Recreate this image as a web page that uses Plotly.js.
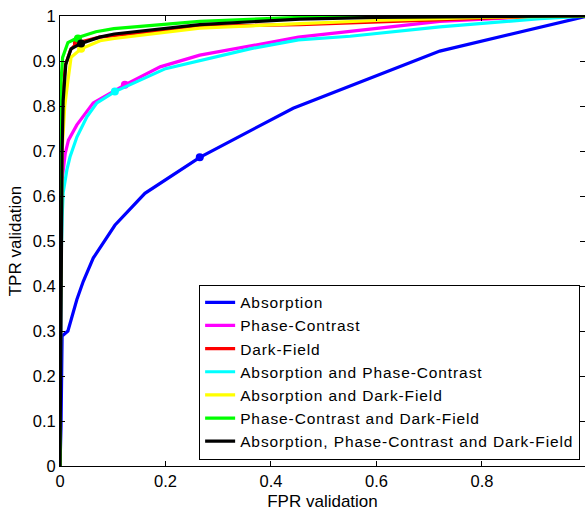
<!DOCTYPE html>
<html>
<head>
<meta charset="utf-8">
<script src="https://cdn.plot.ly/plotly-3.0.1.min.js"></script>
<style>
html,body{margin:0;padding:0;background:#fff;}
#chart{width:585px;height:512px;}
text.legendtext{letter-spacing:0.9px;}
</style>
</head>
<body>
<div id="chart"></div>
<script>
// Absorption
const absX = [0, 0.002, 0.004, 0.015, 0.032, 0.044, 0.063, 0.104, 0.161, 0.265, 0.442, 0.72, 1];
const absY = [0, 0.09, 0.289, 0.30, 0.37, 0.41, 0.462, 0.535, 0.606, 0.686, 0.795, 0.922, 1];
// Phase-Contrast
const pcX = [0, 0.002, 0.004, 0.01, 0.016, 0.032, 0.063, 0.123, 0.19, 0.265, 0.452, 0.55, 0.72, 0.85, 0.95, 1];
const pcY = [0, 0.55, 0.636, 0.695, 0.724, 0.758, 0.807, 0.847, 0.887, 0.913, 0.953, 0.966, 0.988, 0.996, 0.999, 1];
// Dark-Field
const dfX = [0, 0.001, 0.004, 0.01, 0.02, 0.032, 0.075, 0.265, 0.455, 0.53, 0.72, 0.85, 1];
const dfY = [0, 0.6, 0.8, 0.89, 0.925, 0.94, 0.953, 0.977, 0.981, 0.984, 0.993, 0.997, 1];
// Absorption and Phase-Contrast
const apcX = [0, 0.002, 0.004, 0.006, 0.013, 0.019, 0.032, 0.051, 0.07, 0.104, 0.2, 0.36, 0.452, 0.55, 0.72, 0.91, 1];
const apcY = [0, 0.45, 0.553, 0.607, 0.658, 0.687, 0.731, 0.776, 0.807, 0.832, 0.883, 0.927, 0.947, 0.955, 0.976, 0.994, 1];
// Absorption and Dark-Field
const adfX = [0, 0.001, 0.004, 0.009, 0.015, 0.021, 0.04, 0.076, 0.103, 0.265, 0.455, 0.6, 0.8, 1];
const adfY = [0, 0.35, 0.7, 0.8, 0.856, 0.908, 0.927, 0.945, 0.95, 0.973, 0.983, 0.99, 0.997, 1];
// Phase-Contrast and Dark-Field
const pcdfX = [0, 0.0005, 0.001, 0.002, 0.005, 0.015, 0.034, 0.068, 0.102, 0.265, 0.455, 0.6, 1];
const pcdfY = [0, 0.6, 0.74, 0.856, 0.908, 0.941, 0.952, 0.965, 0.972, 0.988, 0.997, 0.999, 1];
// Absorption, Phase-Contrast and Dark-Field
const allX = [0, 0.002, 0.004, 0.006, 0.011, 0.021, 0.04, 0.075, 0.103, 0.265, 0.455, 0.6, 1];
const allY = [0, 0.5, 0.7, 0.812, 0.893, 0.927, 0.939, 0.953, 0.96, 0.981, 0.993, 0.997, 1];

// operating points (marked dots)
const opX = [0.265, 0.123, 0.032, 0.104, 0.04, 0.034, 0.04];
const opY = [0.686, 0.847, 0.94, 0.832, 0.927, 0.95, 0.939];

const names = ["Absorption", "Phase-Contrast", "Dark-Field", "Absorption and Phase-Contrast",
  "Absorption and Dark-Field", "Phase-Contrast and Dark-Field", "Absorption, Phase-Contrast and Dark-Field"];
const xs = [absX, pcX, dfX, apcX, adfX, pcdfX, allX];
const ys = [absY, pcY, dfY, apcY, adfY, pcdfY, allY];
const colors = ["#0000ff", "#ff00ff", "#ff0000", "#00ffff", "#ffff00", "#00ff00", "#000000"];

const traces = [];
for (let i = 0; i < names.length; i++) {
  traces.push({x: xs[i], y: ys[i], type: "scatter", mode: "lines", name: names[i],
    line: {color: colors[i], width: 3.2}, hoverinfo: "skip"});
  traces.push({x: [opX[i]], y: [opY[i]], type: "scatter", mode: "markers", showlegend: false,
    marker: {color: colors[i], size: 8, symbol: "circle"}, hoverinfo: "skip"});
}

const fam = "Liberation Sans, Arial, sans-serif";
const tickFont = {family: fam, size: 16.5, color: "#000"};
const titleFont = {family: fam, size: 17, color: "#000"};
const legendFont = {family: fam, size: 15.5, color: "#000"};
const axis = {showline: true, mirror: "ticks", ticks: "inside", ticklen: 5, tickcolor: "#000",
  linecolor: "#000", linewidth: 1, showgrid: false, zeroline: false, tickfont: tickFont};

const layout = {
  width: 585, height: 512,
  margin: {l: 60, r: 0, t: 16, b: 46},
  paper_bgcolor: "#fff", plot_bgcolor: "#fff",
  font: tickFont,
  showlegend: true,
  xaxis: Object.assign({}, axis, {range: [0, 0.9953], dtick: 0.2, tick0: 0, automargin: true,
    title: {text: "FPR validation", font: titleFont, standoff: 6}}),
  yaxis: Object.assign({}, axis, {range: [0, 1], dtick: 0.1, tick0: 0, automargin: true,
    title: {text: "TPR validation", font: titleFont, standoff: 6}}),
  legend: {x: 0.265, y: 0.014, xanchor: "left", yanchor: "bottom", bgcolor: "#fff",
    bordercolor: "#000", borderwidth: 1, font: legendFont, tracegroupgap: 0, itemwidth: 30}
};

Plotly.newPlot("chart", traces, layout, {staticPlot: true, displayModeBar: false});
</script>
</body>
</html>
